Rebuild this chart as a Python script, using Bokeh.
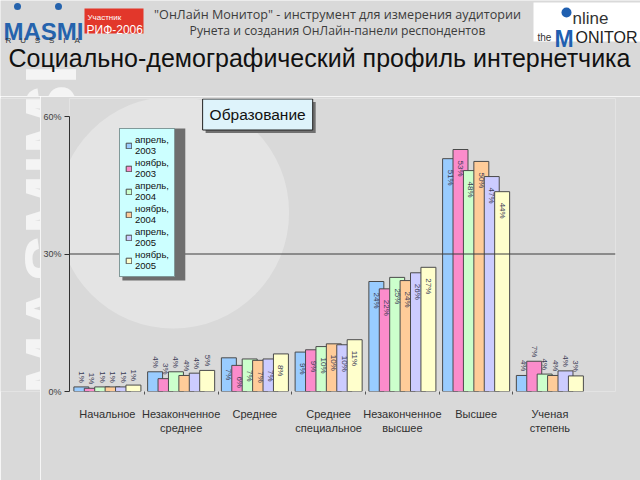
import numpy as np
from bokeh.plotting import figure
from bokeh.layouts import column, row
from bokeh.models import (Range1d, Label, Span, Legend, LegendItem, FixedTicker,
                          ColumnDataSource, BoxAnnotation)
from bokeh.transform import dodge
from bokeh.core.properties import value
from bokeh.embed import file_html
from bokeh.resources import INLINE

# ---------------- data ----------------
categories = ["Начальное", "Незаконченное\nсреднее", "Среднее", "Среднее\nспециальное",
              "Незаконченное\nвысшее", "Высшее", "Ученая\nстепень"]
series_names = ["апрель,\n2003", "ноябрь,\n2003", "апрель,\n2004",
                "ноябрь,\n2004", "апрель,\n2005", "ноябрь,\n2005"]
apr_2003 = [1.0, 4.3, 7.35, 8.6, 24.0, 50.8, 3.5]
nov_2003 = [0.7, 2.8, 5.7, 9.1, 22.4, 52.8, 6.6]
apr_2004 = [1.0, 4.3, 7.1, 9.8, 24.9, 48.2, 3.8]
nov_2004 = [1.0, 3.5, 6.8, 10.4, 24.2, 50.2, 3.5]
apr_2005 = [1.0, 4.0, 7.1, 10.2, 25.9, 46.9, 4.5]
nov_2005 = [1.4, 4.6, 8.2, 11.3, 27.1, 43.6, 3.4]
series_values = [apr_2003, nov_2003, apr_2004, nov_2004, apr_2005, nov_2005]
y_ticks = [0, 30, 60]
y_tick_labels = ["0%", "30%", "60%"]
inside_label_cats = [2, 3, 4, 5]

colors = ["#99ccff", "#fb8ccb", "#ccffcc", "#ffcc99", "#ccccff", "#ffffcc"]

BG = "#d9d9d9"
WM_COLOR = "#f4f4f4"
FONT = "Liberation Sans"
NB = "\u00a0"


def blank_fig(w, h, xr, yr):
    f = figure(width=w, height=h, output_backend="svg", toolbar_location=None,
               x_range=xr, y_range=yr, min_border=0, x_axis_location=None,
               y_axis_location=None, background_fill_color=BG, border_fill_color=BG,
               outline_line_color=None)
    f.grid.visible = False
    return f


def watermark(f):
    f.add_layout(Label(x=50, y=484, text="MASMIMASI", angle=np.pi / 2,
                       text_font=FONT, text_font_style="bold",
                       text_font_size="72px", text_color=WM_COLOR, text_alpha=1.0,
                       text_baseline="alphabetic", text_align="left"))


# ---------------- header (page coordinates) ----------------
hdr = blank_fig(640, 96, Range1d(0, 640), Range1d(96, 0))
watermark(hdr)

hdr.scatter(x=[17, 58], y=[6, 6], size=7, fill_color="#2563ad", line_color=None)
hdr.add_layout(Label(x=3, y=31, text="MASMI", text_font=FONT, text_font_style="bold",
                     text_font_size="24px", text_color="#2563ad", text_baseline="alphabetic"))
hdr.add_layout(Label(x=5, y=40, text=(NB * 4).join("RUSSIA"), text_font=FONT,
                     text_font_size="8px", text_color="#333333", text_baseline="alphabetic"))
hdr.quad(left=84, right=143, top=8, bottom=33, fill_color="#e2372b", line_color=None)
hdr.add_layout(Label(x=87, y=17, text="Участник", text_font=FONT,
                     text_font_size="8px", text_color="white", text_baseline="alphabetic"))
hdr.add_layout(Label(x=86, y=29, text="РИФ-2006", text_font=FONT,
                     text_font_size="12px", text_color="white", text_baseline="alphabetic"))
hdr.add_layout(Label(x=337, y=14, text="\"ОнЛайн Монитор\" - инструмент для измерения аудитории",
                     text_align="center", text_baseline="middle", text_font="Open Sans",
                     text_font_size="12.6px", text_color="#3c3c3c"))
hdr.add_layout(Label(x=337, y=30, text="Рунета и создания ОнЛайн-панели респондентов",
                     text_align="center", text_baseline="middle", text_font="Open Sans",
                     text_font_size="12.2px", text_color="#3c3c3c"))
# online MONITOR logo
hdr.quad(left=533, right=640, top=2, bottom=41, fill_color="white", line_color=None)
hdr.scatter(x=[566], y=[12], size=10, fill_color="#1f5fb0", line_color=None)
hdr.add_layout(Label(x=572, y=18, text="nline", text_font=FONT,
                     text_font_size="17px", text_color="#333333", text_baseline="alphabetic"))
hdr.add_layout(Label(x=537, y=37, text="the", text_font=FONT,
                     text_font_size="10px", text_color="#333333", text_baseline="alphabetic"))
hdr.add_layout(Label(x=554, y=38, text="M", text_font=FONT,
                     text_font_style="bold", text_font_size="23px", text_color="#1f5fb0",
                     text_baseline="alphabetic"))
hdr.add_layout(Label(x=575, y=37, text="ONITOR", text_font=FONT,
                     text_font_size="16px", text_color="#222222", text_baseline="alphabetic"))
# title
hdr.add_layout(Label(x=319, y=57, text="Социально-демографический профиль интернетчика",
                     text_align="center", text_baseline="middle", text_font=FONT,
                     text_font_size="25px", text_color="#111111"))

# ---------------- left watermark strip ----------------
wm = blank_fig(40, 384, Range1d(0, 40), Range1d(480, 96))
watermark(wm)

# ---------------- chart ----------------
p = figure(width=600, height=384, output_backend="svg", toolbar_location=None,
           x_range=Range1d(-0.514, 6.89), y_range=Range1d(0, 63.93),
           min_border_left=28, min_border_right=25, min_border_top=2,
           min_border_bottom=89, background_fill_color=BG, border_fill_color=BG,
           outline_line_color=None)
p.extra_x_ranges = {"px": Range1d(68, 615)}
p.extra_y_ranges = {"px": Range1d(391, 98)}
p.xgrid.visible = False
p.ygrid.visible = False

# soft light disc of the background artwork
p.ellipse(x=[172], y=[212], width=232, height=232, x_range_name="px", y_range_name="px",
          fill_color="#e4e4e4", line_color=None, level="underlay")

step = 0.1412
bw = 0.203
renderers = []
for j, (vals, col) in enumerate(zip(series_values, colors)):
    src = ColumnDataSource(dict(idx=list(range(len(categories))), val=vals))
    r = p.vbar(x=dodge("idx", (j - 2.5) * step, range=p.x_range), top="val", width=bw,
               bottom=0, source=src, fill_color=col, line_color="#4a4a4a", line_width=1)
    renderers.append(r)

for j, vals in enumerate(series_values):
    ins = [i for i in range(len(categories)) if i in inside_label_cats]
    out = [i for i in range(len(categories)) if i not in inside_label_cats]
    s_in = ColumnDataSource(dict(idx=ins, val=[vals[i] for i in ins],
                                 lab=[f"{round(vals[i])}%" for i in ins]))
    s_out = ColumnDataSource(dict(idx=out, val=[vals[i] for i in out],
                                  lab=[f"{round(vals[i])}%" for i in out]))
    p.text(x=dodge("idx", (j - 2.5) * step, range=p.x_range), y="val", text="lab",
           source=s_in, angle=-np.pi / 2, text_align="left", text_baseline="middle",
           y_offset=11, text_font_size="8px", text_color="#3a3a55",
           text_font=value(FONT))
    p.text(x=dodge("idx", (j - 2.5) * step, range=p.x_range), y="val", text="lab",
           source=s_out, angle=-np.pi / 2, text_align="right", text_baseline="middle",
           y_offset=-4, text_font_size="8px", text_color="#3a3a55",
           text_font=value(FONT))

p.add_layout(Span(location=30, dimension="width", line_color="#3c3c3c", line_width=1))

xa = p.xaxis[0]
xa.ticker = FixedTicker(ticks=list(range(len(categories))),
                        minor_ticks=[i + 0.5 for i in range(len(categories) - 1)])
xa.major_label_overrides = {i: c for i, c in enumerate(categories)}
xa.major_label_text_font = FONT
xa.major_label_text_font_size = "11px"
xa.major_label_text_color = "#303030"
xa.major_label_standoff = 10
xa.axis_line_color = None
xa.major_tick_line_color = None
xa.minor_tick_line_color = "#555555"
xa.minor_tick_out = 3
xa.minor_tick_in = 0

ya = p.yaxis[0]
ya.ticker = FixedTicker(ticks=y_ticks)
ya.bounds = (0, 60)
ya.major_label_overrides = {t: l for t, l in zip(y_ticks, y_tick_labels)}
ya.major_label_text_font = FONT
ya.major_label_text_font_size = "9px"
ya.major_label_text_color = "#404040"
ya.axis_line_color = "#303030"
ya.major_tick_line_color = "#303030"
ya.major_tick_out = 5
ya.major_tick_in = 0
ya.minor_tick_line_color = None
ya.major_label_standoff = 3

# legend with shadow
p.add_layout(BoxAnnotation(left=121, right=184, top=128, bottom=280,
                           x_range_name="px", y_range_name="px",
                           fill_color="#6e6e6e", fill_alpha=1, line_color=None))
legend = Legend(items=[LegendItem(label=n, renderers=[r]) for n, r in zip(series_names, renderers)],
                location=(50, 114), background_fill_color="#ccffff", background_fill_alpha=1,
                border_line_color="#333333", border_line_width=1,
                label_text_font=FONT, label_text_font_size="9.5px",
                label_text_color="#111111", glyph_width=7, glyph_height=7,
                label_standoff=3, spacing=1, padding=5, margin=0, label_height=22)
p.add_layout(legend, "center")

# "Образование" box with shadow
p.add_layout(Label(x=259.5, y=117, x_range_name="px", y_range_name="px", text="Образование",
                   text_align="center", text_baseline="middle", text_font=FONT,
                   text_font_size="15.5px", text_color="#707070", background_fill_color="#707070",
                   padding=7))
p.add_layout(Label(x=256.5, y=114, x_range_name="px", y_range_name="px", text="Образование",
                   text_align="center", text_baseline="middle", text_font=FONT,
                   text_font_size="15.5px", text_color="#111111", background_fill_color="#def3fb",
                   border_line_color="#222222", border_line_width=1, padding=7))

layout = column(hdr, row(wm, p))
open("out.html", "w").write(file_html(layout, INLINE))
